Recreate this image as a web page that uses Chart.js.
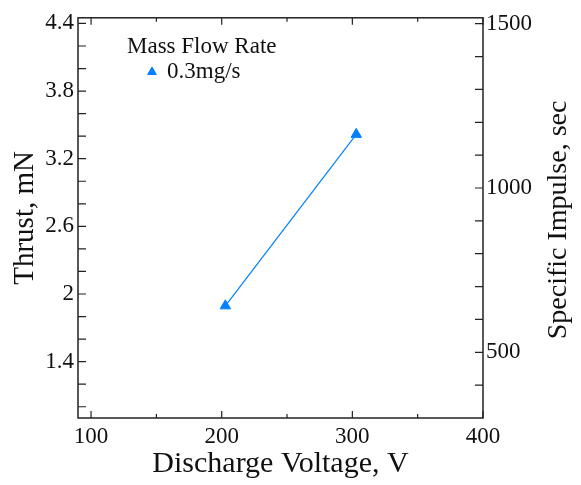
<!DOCTYPE html>
<html lang="en">
<head>
<meta charset="UTF-8">
<title>Thrust vs Discharge Voltage</title>
<script src="https://cdn.jsdelivr.net/npm/chart.js@4.4.0/dist/chart.umd.min.js"></script>
<style>
  html, body { margin: 0; padding: 0; background: #fff; }
  #wrap { width: 581px; height: 485px; }
</style>
</head>
<body>
<div id="wrap"><canvas id="chart" width="581" height="485"></canvas></div>
<script>
// data
const voltage = [202.8, 303];
const thrust = [1.895, 3.416];
const seriesLabel = '0.3mg/s';
const legendTitle = 'Mass Flow Rate';

// axis ticks
const xTicks = [100, 200, 300, 400];
const xMinor = [150, 250, 350];
const yTicks = [1.4, 2, 2.6, 3.2, 3.8, 4.4];
const yMinor = [1.0, 1.2, 1.6, 1.8, 2.2, 2.4, 2.8, 3.0, 3.4, 3.6, 4.0, 4.2];
const ispTicks = [500, 1000, 1500];
const ispMinor = [400, 600, 700, 800, 900, 1100, 1200, 1300, 1400];

const blue = 'rgb(0,128,255)';
const ink = '#111';
const axisInk = '#222';
const serif = '"Liberation Serif", "Times New Roman", serif';

// box frame, inward ticks, right axis title and the legend
const framePlugin = {
    id: 'frame',
    afterDraw(c) {
        const { ctx, chartArea: a, scales: { x, y, y2 } } = c;
        ctx.save();
        ctx.strokeStyle = axisInk;
        ctx.lineWidth = 1.5;
        ctx.strokeRect(a.left, a.top, a.right - a.left, a.bottom - a.top);

        ctx.lineWidth = 1.2;
        ctx.beginPath();
        const xTick = (v, len) => {
            const px = x.getPixelForValue(v);
            ctx.moveTo(px, a.bottom); ctx.lineTo(px, a.bottom - len);
            ctx.moveTo(px, a.top); ctx.lineTo(px, a.top + len);
        };
        xTicks.forEach(v => xTick(v, 7));
        xMinor.forEach(v => xTick(v, 4));
        yTicks.concat(yMinor).forEach(v => {
            const py = y.getPixelForValue(v);
            ctx.moveTo(a.left, py); ctx.lineTo(a.left + 8, py);
        });
        ispTicks.concat(ispMinor).forEach(v => {
            const py = y2.getPixelForValue(v);
            ctx.moveTo(a.right, py); ctx.lineTo(a.right - 8, py);
        });
        ctx.stroke();

        // right axis title reads bottom to top
        ctx.save();
        ctx.translate(559, (a.top + a.bottom) / 2 + 2);
        ctx.rotate(-Math.PI / 2);
        ctx.font = '28px ' + serif;
        ctx.fillStyle = ink;
        ctx.textAlign = 'center';
        ctx.textBaseline = 'middle';
        ctx.fillText('Specific Impulse, sec', 0, 0);
        ctx.restore();

        // legend
        ctx.font = '23px ' + serif;
        ctx.fillStyle = ink;
        ctx.textAlign = 'left';
        ctx.textBaseline = 'middle';
        ctx.fillText(legendTitle, 127, 47);
        ctx.fillText(c.data.datasets[0].label, 167, 72);
        ctx.fillStyle = blue;
        ctx.strokeStyle = blue;
        ctx.lineWidth = 1;
        Chart.helpers.drawPoint(ctx, { pointStyle: 'triangle', radius: 5, borderWidth: 1, rotation: 0 }, 152, 72);
        ctx.restore();
    }
};

new Chart(document.getElementById('chart'), {
    type: 'line',
    data: {
        datasets: [{
            label: seriesLabel,
            data: voltage.map((v, i) => ({ x: v, y: thrust[i] })),
            borderColor: blue,
            backgroundColor: blue,
            borderWidth: 1.2,
            pointStyle: 'triangle',
            pointRadius: 6,
            pointBorderWidth: 1,
            yAxisID: 'y'
        }]
    },
    options: {
        responsive: false,
        animation: false,
        layout: { padding: { top: 12, left: 0, right: 0, bottom: 0 } },
        plugins: { legend: { display: false }, tooltip: { enabled: false } },
        scales: {
            x: {
                type: 'linear', position: 'bottom', min: 90, max: 400,
                afterBuildTicks: s => { s.ticks = xTicks.map(v => ({ value: v })); },
                afterFit: s => { s.height = 67; },
                grid: { display: false, drawTicks: false },
                border: { display: false },
                ticks: { color: ink, padding: 5, font: { family: serif, size: 23 }, callback: v => String(v) },
                title: { display: true, text: 'Discharge Voltage, V', color: ink,
                    font: { family: serif, size: 30 }, padding: { top: 0, bottom: 3 } }
            },
            y: {
                type: 'linear', position: 'left', min: 0.9, max: 4.45,
                afterBuildTicks: s => { s.ticks = yTicks.map(v => ({ value: v })); },
                afterFit: s => { s.width = 78; },
                grid: { display: false, drawTicks: false },
                border: { display: false },
                ticks: { color: ink, padding: 4, font: { family: serif, size: 23 }, callback: v => String(v) },
                title: { display: true, text: 'Thrust, mN', color: ink,
                    font: { family: serif, size: 29 }, padding: { top: 8, bottom: 0 } }
            },
            y2: {
                type: 'linear', position: 'right', min: 300, max: 1518,
                afterBuildTicks: s => { s.ticks = ispTicks.map(v => ({ value: v })); },
                afterFit: s => { s.width = 98; },
                grid: { display: false, drawTicks: false },
                border: { display: false },
                ticks: { color: ink, padding: 3, font: { family: serif, size: 23 }, callback: v => String(v) }
            }
        }
    },
    plugins: [framePlugin]
});
</script>
</body>
</html>
